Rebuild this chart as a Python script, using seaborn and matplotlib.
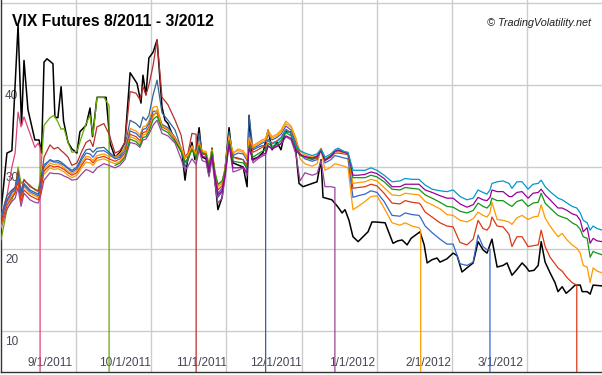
import pandas as pd
import matplotlib
matplotlib.use("Agg")
import matplotlib.pyplot as plt
import matplotlib.dates as mdates
from matplotlib.ticker import FixedLocator
from matplotlib.transforms import ScaledTranslation
import seaborn as sns

# ---------------- data ----------------
start = "2011-08-12"          # day 0
span_days = 243               # visible range in days

# common sampling days (days after start) for the futures
day = [0, 2.4, 4.4, 5.7, 6.9, 8.1, 9.3, 11.7, 13.7, 15.0,
       15.8, 17.4, 19.8, 21.4, 23.0, 24.3, 25.5, 27.1, 28.7, 30.7,
       32.8, 34.4, 36.0, 37.2, 38.8, 41.6, 43.7, 46.1, 48.1, 50.1,
       52.2, 54.6, 56.2, 57.4, 58.6, 59.8, 61.5, 63.1, 65.1, 67.5,
       70.4, 72.8, 74.4, 75.6, 77.2, 78.9, 80.1, 81.3, 82.9, 84.1,
       85.3, 86.5, 87.7, 89.4, 90.6, 92.2, 93.8, 95.8, 97.9, 99.5,
       100.3, 101.9, 103.9, 105.5, 107.0, 108.0, 109.6, 111.6, 113.2, 115.2,
       117.3, 119.3, 120.9, 122.9, 125.8, 127.8, 129.4, 131.0, 133.4, 135.0,
       136.3, 138.7, 140.3, 142.3, 144.4, 147.2, 149.6, 152.0, 154.9, 158.1,
       161.3, 163.4, 166.2, 169.0, 169.7, 171.5, 174.3, 177.5, 180.3, 182.8,
       185.6, 188.4, 190.9, 192.9, 194.9, 196.5, 197.7, 198.5, 200.6, 203.0,
       205.4, 206.6, 208.6, 210.7, 213.1, 215.1, 217.2, 218.4, 220.0, 222.0,
       225.2, 226.9, 228.9, 230.9, 232.8, 234.2, 235.4, 237.0, 238.2, 239.4,
       241.0, 243.0]

# VIX spot (black)
vix_day = [0, 2.4, 4.4, 6.9, 8.3, 9.3, 10.9, 13.7, 15.4, 16.4,
           17.4, 18.6, 21.0, 21.8, 23.0, 24.3, 25.3, 27.1, 28.7, 30.7,
           31.9, 34.4, 36.0, 37.0, 38.8, 42.5, 44.1, 46.1, 48.1, 50.1,
           52.2, 55.0, 56.6, 57.4, 58.6, 59.8, 61.5, 63.1, 65.1, 66.3,
           67.5, 69.1, 71.2, 73.2, 74.4, 75.6, 77.2, 78.4, 80.1, 81.3,
           82.9, 84.1, 85.3, 86.5, 87.7, 89.4, 90.6, 92.2, 93.8, 97.9,
           99.5, 100.3, 101.5, 103.9, 106.0, 108.0, 109.6, 111.6, 113.2, 114.8,
           116.9, 118.9, 120.5, 122.1, 127.8, 129.4, 130.2, 133.8, 136.3, 137.9,
           139.1, 140.7, 142.3, 144.4, 148.4, 150.0, 151.2, 155.3, 158.5, 160.5,
           162.2, 164.2, 165.8, 169.4, 171.1, 172.3, 174.3, 176.3, 177.5, 180.3,
           182.8, 184.4, 186.4, 188.8, 190.9, 192.9, 194.9, 196.5, 198.5, 200.6,
           203.0, 204.6, 206.6, 208.6, 210.7, 212.3, 213.5, 215.5, 217.2, 218.4,
           220.0, 222.0, 224.0, 225.2, 226.9, 228.5, 230.1, 232.1, 234.2, 235.0,
           237.0, 238.2, 239.4, 243.0]
vix = [24.6, 31.7, 32.0, 47.3, 35.1, 43.0, 37.0, 33.3, 33.3, 31.7,
       42.8, 43.2, 42.6, 36.1, 36.0, 39.8, 35.6, 33.0, 32.2, 31.7,
       34.3, 35.1, 37.2, 33.7, 38.5, 38.5, 32.9, 31.2, 31.8, 33.0,
       41.5, 40.2, 37.8, 41.2, 38.8, 43.3, 44.0, 45.5, 37.3, 35.7,
       35.3, 34.1, 32.9, 31.7, 28.4, 31.2, 33.0, 30.9, 34.8, 31.2,
       31.0, 29.0, 32.3, 28.4, 24.8, 26.3, 29.6, 34.8, 30.5, 30.0,
       27.6, 36.3, 30.9, 31.2, 31.8, 34.5, 32.1, 33.0, 32.1, 34.3,
       34.3, 32.9, 28.0, 27.6, 28.2, 30.9, 26.3, 26.0, 25.1, 24.4,
       24.8, 23.5, 21.5, 20.9, 22.1, 23.3, 23.3, 23.2, 20.7, 21.0,
       21.1, 20.5, 21.3, 22.1, 20.5, 18.3, 18.7, 18.9, 18.4, 18.8,
       19.5, 19.2, 17.2, 17.8, 18.3, 20.9, 19.9, 19.5, 21.2, 17.8,
       18.0, 18.3, 16.8, 17.5, 18.3, 17.8, 17.3, 17.4, 18.0, 20.9,
       18.4, 17.1, 15.9, 14.8, 15.4, 14.6, 15.0, 15.6, 15.6, 14.8,
       14.8, 14.5, 15.6, 15.5]

aug11 = [24.0, 26.5, 30.0, 31.7, 36.7, 34.9, 36.1, 34.1, 32.4, 32.9, 32.4]
sep11 = [21.1, 24.8, 26.0, 27.0, 30.0, 28.0, 28.3, 27.8, 27.2, 27.0,
         28.4, 35.1, 36.0, 36.3, 35.5, 34.6, 34.7, 33.0, 31.8, 31.9,
         33.9, 35.3, 36.3, 33.8, 38.5, 38.5, 37.5]
oct11 = [23.3, 26.0, 27.0, 27.5, 29.5, 27.0, 28.5, 27.6, 27.3, 27.1,
         27.8, 31.2, 32.7, 32.2, 32.4, 32.0, 31.7, 31.2, 30.2, 30.5,
         32.0, 33.0, 33.3, 32.5, 34.9, 35.3, 34.0, 31.7, 32.0, 33.0,
         39.2, 39.0, 38.2, 39.8, 38.8, 40.0, 42.4, 45.5, 38.5, 37.6,
         35.7, 33.9, 31.2, 31.7, 34.1, 34.0]
nov11 = [23.8, 26.5, 27.2, 27.5, 29.0, 26.8, 28.0, 27.2, 26.9, 26.7,
         27.3, 30.0, 30.9, 30.7, 30.8, 30.6, 30.3, 29.9, 29.6, 30.0,
         31.3, 32.1, 32.2, 31.8, 32.3, 32.4, 31.8, 31.2, 31.4, 32.4,
         35.7, 35.3, 34.8, 36.1, 35.7, 36.3, 38.8, 40.6, 36.6, 35.7,
         34.5, 32.3, 30.0, 30.8, 32.4, 31.2, 34.1, 31.8, 31.6, 29.6,
         32.1, 28.9, 26.3, 27.0, 30.0, 34.3, 31.2, 31.1, 30.9, 29.6,
         36.3, 32.1, 32.4, 32.6, 32.6]
dec11 = [22.5, 24.9, 25.8, 26.2, 27.5, 25.2, 26.8, 26.0, 25.7, 25.6,
         26.2, 28.4, 29.3, 29.2, 29.2, 29.1, 28.9, 28.7, 28.4, 28.5,
         29.2, 29.7, 29.5, 29.3, 29.9, 30.4, 30.2, 29.9, 30.2, 30.9,
         33.0, 32.8, 32.4, 33.3, 33.4, 34.0, 35.1, 35.7, 34.1, 33.8,
         32.9, 31.0, 29.6, 30.1, 31.0, 30.3, 32.1, 30.8, 30.6, 28.8,
         30.9, 28.0, 25.6, 26.2, 28.7, 32.9, 29.4, 29.6, 29.9, 29.0,
         32.9, 30.5, 31.0, 31.3, 31.5, 32.5, 32.3, 32.6, 32.8, 33.7,
         33.3, 31.5, 28.3, 29.3, 29.0, 29.2, 30.8, 27.6, 27.6, 27.5]
jan12 = [22.7, 25.5, 26.6, 27.0, 28.5, 26.2, 27.6, 26.8, 26.5, 26.3,
         26.9, 29.7, 30.5, 30.3, 30.4, 30.2, 29.9, 29.5, 29.2, 29.6,
         30.6, 31.3, 31.2, 30.8, 31.4, 31.6, 31.3, 31.2, 31.6, 32.3,
         34.7, 34.4, 33.9, 34.9, 35.0, 35.6, 37.3, 37.4, 35.1, 34.7,
         33.5, 32.4, 31.1, 31.5, 32.6, 31.6, 32.7, 31.8, 31.7, 30.2,
         32.0, 29.3, 27.6, 28.0, 29.6, 33.4, 31.6, 32.2, 32.0, 31.2,
         33.9, 32.6, 33.0, 33.3, 33.5, 34.5, 33.7, 34.0, 34.5, 35.6,
         35.0, 33.5, 31.0, 30.4, 30.1, 30.4, 32.1, 29.6, 30.0, 30.4,
         30.3, 30.1, 29.9, 24.8, 25.2, 25.8, 26.4, 26.5, 25.0, 23.2,
         22.9, 23.2, 22.8, 22.6, 22.3]
feb12 = [24.0, 25.8, 26.9, 27.2, 28.8, 26.5, 27.8, 27.0, 26.7, 26.5,
         27.1, 30.3, 30.8, 30.6, 30.6, 30.4, 30.2, 29.8, 29.4, 29.8,
         31.0, 31.7, 31.6, 31.2, 31.9, 32.0, 31.6, 31.0, 31.2, 32.0,
         34.4, 34.1, 33.6, 34.6, 34.7, 35.3, 36.8, 36.8, 35.2, 34.8,
         33.6, 32.2, 30.5, 31.0, 32.3, 31.3, 32.9, 31.6, 31.5, 29.8,
         31.8, 29.0, 26.8, 27.4, 29.7, 33.8, 31.4, 31.7, 31.6, 30.8,
         34.3, 32.3, 32.6, 32.9, 33.1, 34.0, 33.3, 33.6, 34.0, 35.0,
         34.5, 33.0, 31.6, 31.0, 30.7, 30.9, 32.2, 30.5, 30.9, 31.4,
         31.3, 31.1, 31.0, 26.3, 26.5, 26.7, 27.1, 26.9, 25.8, 24.1,
         24.0, 24.4, 24.2, 24.1, 23.8, 22.8, 22.0, 21.2, 20.6, 20.6,
         18.2, 18.0, 18.4, 21.7, 20.3, 19.9, 20.0]
mar12 = [23.0, 25.3, 26.3, 26.8, 28.2, 25.8, 27.2, 26.5, 26.2, 26.0,
         26.6, 29.5, 30.2, 30.0, 30.1, 29.9, 29.7, 29.3, 29.0, 29.3,
         30.3, 31.0, 30.9, 30.5, 31.1, 31.3, 31.0, 30.7, 31.0, 31.7,
         34.0, 33.7, 33.2, 34.2, 34.3, 34.9, 36.4, 36.6, 34.9, 34.5,
         33.4, 32.1, 30.6, 31.0, 32.2, 31.2, 32.8, 31.6, 31.5, 30.0,
         31.8, 29.2, 27.2, 27.7, 29.6, 33.5, 31.2, 31.0, 30.9, 30.2,
         33.4, 31.8, 32.1, 32.4, 32.6, 33.4, 32.9, 33.2, 33.6, 34.6,
         34.2, 32.7, 31.6, 31.2, 30.9, 31.1, 32.2, 30.8, 31.2, 31.7,
         31.7, 31.6, 31.5, 27.4, 27.5, 27.6, 27.9, 27.7, 26.8, 25.6,
         25.5, 25.9, 25.7, 25.6, 25.4, 24.5, 23.9, 23.2, 22.8, 22.7,
         20.8, 20.5, 21.2, 23.5, 22.5, 22.3, 22.8, 23.9, 22.8, 22.7,
         21.8, 20.3, 21.5, 21.5, 20.3, 20.4, 20.5, 22.3, 20.3, 19.0,
         17.7, 17.3, 16.5, 15.9, 15.6]
apr12 = [29.1, 29.9, 29.7, 29.8, 29.6, 29.4, 29.0, 28.7, 29.0,
         30.0, 30.6, 30.5, 30.2, 30.8, 31.0, 30.7, 30.4, 30.7, 31.4,
         33.7, 33.4, 32.9, 33.9, 34.0, 34.6, 36.1, 37.0, 35.0, 34.6,
         33.5, 32.3, 31.0, 31.4, 32.5, 31.5, 33.0, 32.0, 31.9, 30.4,
         32.2, 29.5, 27.8, 28.2, 29.9, 33.8, 31.8, 32.0, 31.8, 31.0,
         33.6, 32.4, 32.8, 33.1, 33.3, 34.2, 33.5, 33.8, 34.3, 35.3,
         34.8, 33.3, 31.9, 31.5, 31.2, 31.4, 32.3, 31.0, 31.4, 31.9,
         31.9, 31.7, 31.6, 28.0, 28.1, 28.2, 28.5, 28.3, 27.5, 26.6,
         26.5, 26.8, 26.7, 26.6, 26.4, 25.8, 25.4, 24.9, 24.2, 24.1,
         23.5, 23.3, 23.7, 24.5, 24.1, 23.9, 24.4, 25.7, 23.6, 23.5,
         23.3, 23.0, 23.8, 24.1, 23.6, 23.9, 24.0, 25.4, 23.8, 22.8,
         21.5, 21.9, 21.1, 20.5, 20.1, 19.5, 18.0, 17.8, 15.9, 17.7,
         17.3, 17.1]
may12 = [30.2, 30.5, 31.2,
         33.4, 33.1, 32.6, 33.6, 33.7, 34.3, 35.8, 36.2, 34.6, 34.2,
         33.1, 31.9, 30.6, 31.0, 32.1, 31.1, 32.6, 31.7, 31.6, 30.2,
         31.9, 29.3, 27.9, 28.3, 29.6, 33.2, 30.7, 30.6, 30.5, 29.9,
         32.6, 31.2, 31.6, 31.9, 32.1, 32.9, 32.5, 32.8, 33.2, 34.2,
         33.8, 32.3, 31.4, 31.2, 31.0, 31.2, 32.1, 30.9, 31.4, 31.9,
         32.0, 31.8, 31.6, 28.7, 28.7, 28.7, 29.0, 28.8, 28.2, 27.3,
         27.2, 27.5, 27.4, 27.3, 27.1, 26.6, 26.2, 25.7, 25.2, 25.1,
         24.6, 24.4, 24.7, 25.6, 25.2, 25.0, 25.4, 26.2, 25.9, 25.9,
         25.4, 25.2, 25.8, 26.0, 25.2, 25.6, 25.7, 26.8, 25.6, 25.0,
         24.1, 23.9, 23.7, 23.2, 22.9, 22.4, 21.5, 21.3, 19.0, 19.7,
         19.5, 19.3]
jun12 = [32.3, 31.3, 31.2, 29.7,
         31.4, 28.8, 26.6, 27.1, 29.0, 32.8, 29.9, 29.9, 30.0, 29.3,
         32.3, 30.8, 31.2, 31.5, 31.7, 32.6, 32.2, 32.5, 32.9, 33.8,
         33.5, 32.0, 31.5, 31.3, 31.1, 31.3, 32.0, 30.8, 31.3, 31.9,
         32.1, 31.8, 31.7, 29.0, 29.0, 29.1, 29.4, 29.2, 28.6, 27.6,
         27.6, 27.9, 27.9, 27.9, 27.7, 27.2, 26.9, 26.5, 26.2, 26.2,
         25.5, 25.1, 25.4, 26.3, 26.0, 25.9, 26.3, 27.2, 27.0, 27.0,
         26.4, 26.4, 26.9, 27.0, 26.2, 26.8, 26.9, 27.3, 26.6, 26.0,
         25.0, 25.0, 24.7, 24.3, 24.1, 23.5, 22.1, 22.6, 20.7, 21.3,
         21.0, 20.9]
jul12 = [33.2, 32.8, 33.1, 33.5, 34.5,
         34.1, 32.6, 32.0, 31.7, 31.4, 31.6, 32.2, 31.2, 31.6, 32.1,
         32.3, 31.9, 31.8, 29.6, 29.6, 29.6, 29.9, 29.6, 29.0, 28.2,
         28.3, 28.6, 28.5, 28.5, 28.3, 27.8, 27.3, 27.1, 27.0, 27.2,
         26.4, 26.0, 26.2, 27.2, 26.9, 26.7, 27.2, 28.0, 28.2, 28.3,
         28.0, 27.4, 28.2, 28.2, 27.3, 27.9, 28.0, 28.4, 27.6, 27.0,
         26.2, 26.0, 25.6, 25.2, 25.0, 24.4, 23.5, 23.2, 22.3, 22.8,
         22.5, 22.3]

contracts = ["Aug11", "Sep11", "Oct11", "Nov11", "Dec11", "Jan12",
             "Feb12", "Mar12", "Apr12", "May12", "Jun12", "Jul12"]
series = [aug11, sep11, oct11, nov11, dec11, jan12,
          feb12, mar12, apr12, may12, jun12, jul12]
first_index = [0, 0, 0, 0, 0, 0, 0, 0, 11, 27, 46, 65]
expired = [True, True, True, True, True, True, True, True,
           False, False, False, False]
colors = ["#dd4477", "#66aa00", "#b82e2e", "#316395", "#994499", "#ff9900",
          "#3366cc", "#dc3912", "#ff9900", "#109618", "#990099", "#0099c6"]
settle_level = 0.0   # value shown after a contract expires

month_ticks = ["2011-09-01", "2011-10-01", "2011-11-01", "2011-12-01",
               "2012-01-01", "2012-02-01", "2012-03-01"]
month_labels = ["9/1/2011", "10/1/2011", "11/1/2011", "12/1/2011",
                "1/1/2012", "2/1/2012", "3/1/2012"]
y_ticks = [10, 20, 30, 40, 50]
y_labels = ["10", "20", "30", "40", ""]

# ---------------- build tables ----------------
base = pd.Timestamp(start)
rows = []
for name, vals, f0, exp in zip(contracts, series, first_index, expired):
    n = min(len(vals), len(day) - f0)
    for j in range(n):
        rows.append((name, day[f0 + j], vals[j]))
    if exp:
        rows.append((name, day[f0 + n - 1], settle_level))
fut = pd.DataFrame(rows, columns=["contract", "day", "value"])
fut["date"] = base + pd.to_timedelta(fut["day"], unit="D")
spot = pd.DataFrame({"date": base + pd.to_timedelta(vix_day, unit="D"),
                     "value": vix})

# ---------------- plot ----------------
sns.set_theme(style="white")
plt.rcParams["font.family"] = ["Liberation Sans", "DejaVu Sans"]

W, H = 602, 375
fig = plt.figure(figsize=(W / 100, H / 100), dpi=100)
ax = fig.add_axes([1 / W, 3 / H, 601 / W, 372 / H])

sns.lineplot(data=spot, x="date", y="value", color="black", lw=1.1,
             estimator=None, sort=False, ax=ax, zorder=2)
sns.lineplot(data=fut, x="date", y="value", hue="contract",
             hue_order=contracts, palette=dict(zip(contracts, colors)),
             estimator=None, sort=False, legend=False, lw=0.9, ax=ax,
             zorder=3)

x0 = base
x1 = base + pd.Timedelta(days=span_days)
ax.set_xlim(x0, x1)
ax.set_ylim(5, 50.37)
ax.set_xlabel("")
ax.set_ylabel("")

# x: month labels (no grid), minor grid dividing width into 8 parts
ax.xaxis.set_major_locator(FixedLocator(mdates.date2num(pd.to_datetime(month_ticks))))
ax.set_xticklabels(month_labels)
lo, hi = mdates.date2num(x0), mdates.date2num(x1)
ax.xaxis.set_minor_locator(FixedLocator([lo + k * (hi - lo) / 8 for k in range(1, 8)]))
ax.set_yticks(y_ticks)
ax.set_yticklabels(y_labels)

ax.set_axisbelow(True)
ax.grid(False)
ax.yaxis.grid(True, which="major", color="#cccccc", lw=1.0)
ax.xaxis.grid(True, which="minor", color="#cccccc", lw=1.0)

ax.tick_params(axis="x", which="major", length=0, pad=-10.5,
               labelsize=8.5, labelcolor="#444455")
ax.tick_params(axis="x", which="minor", length=0)
ax.tick_params(axis="y", length=0, pad=-3, labelsize=8.5, labelcolor="#444455")
for lab in ax.get_yticklabels():
    lab.set_horizontalalignment("left")
    lab.set_transform(lab.get_transform() +
                      ScaledTranslation(0, -0.095, fig.dpi_scale_trans))

for s in ["top", "right"]:
    ax.spines[s].set_visible(False)
for s in ["left", "bottom"]:
    ax.spines[s].set_color("#333333")
    ax.spines[s].set_linewidth(1.0)

fig.text(12 / W, 1 - 26 / H, "VIX Futures 8/2011 - 3/2012",
         fontsize=11.3, fontweight="bold", color="black",
         ha="left", va="baseline")
fig.text(591 / W, 1 - 25.5 / H, "\u00a9 TradingVolatility.net",
         fontsize=7.8, style="italic", color="#222222",
         ha="right", va="baseline")

fig.savefig("out.png", dpi=100)
